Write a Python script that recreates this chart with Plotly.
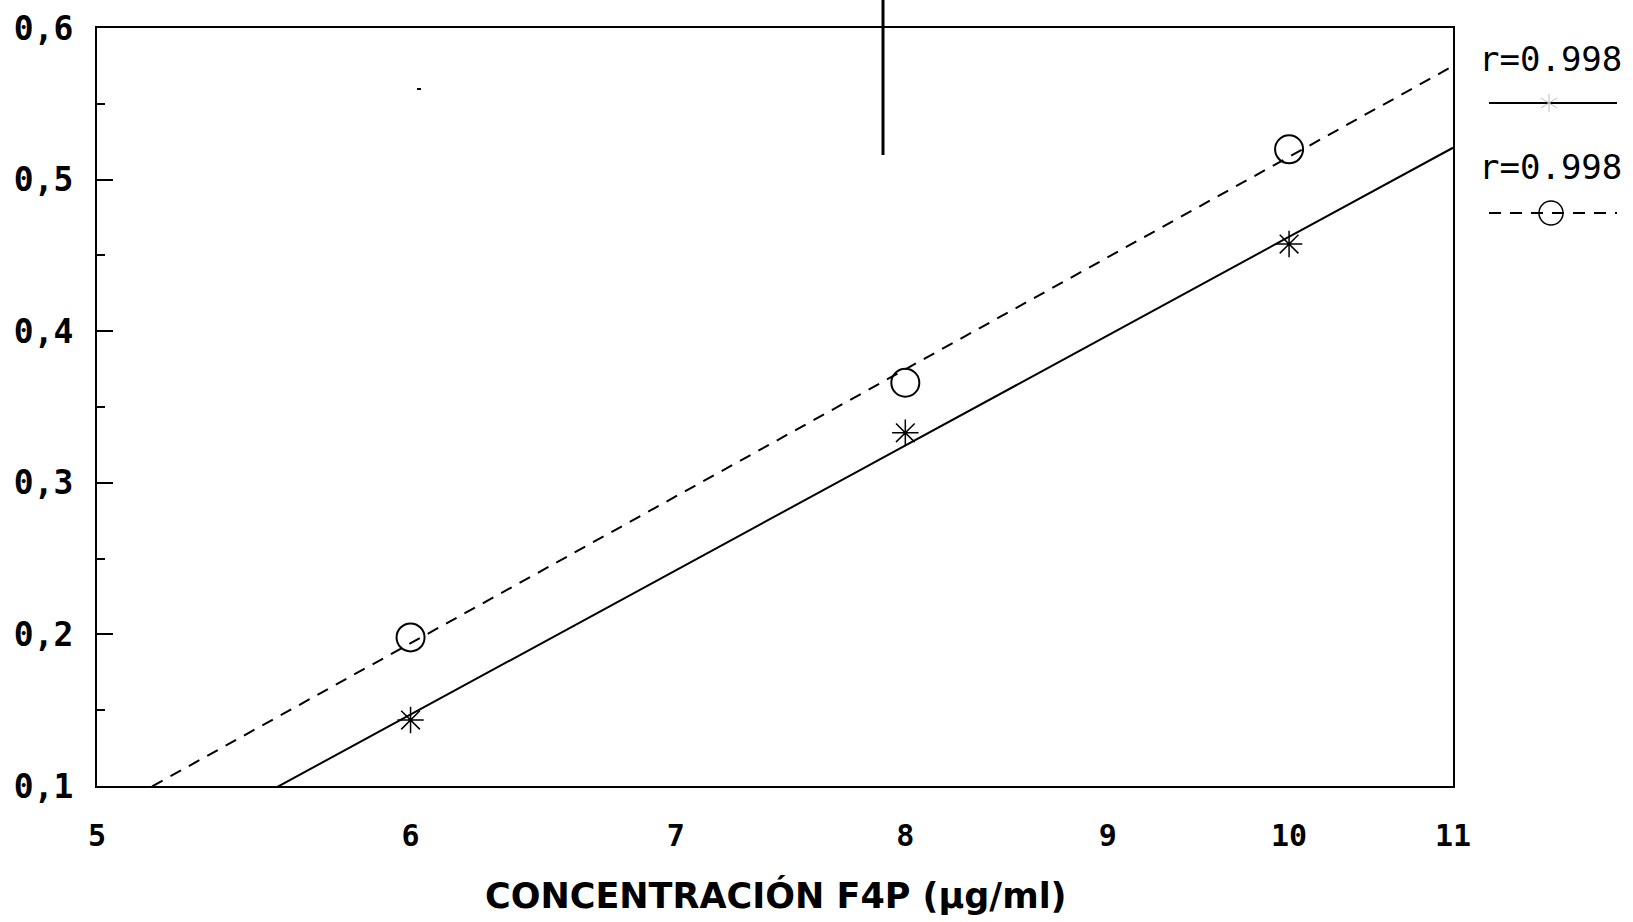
import numpy as np
import plotly.graph_objects as go

# ---- data ----
conc = [6, 8, 10]                      # µg/ml F4P
series_star = [0.1435, 0.333, 0.4575]  # solid regression, asterisk markers
series_circle = [0.198, 0.366, 0.520]  # dashed regression, circle markers
x_ticks = [5, 6, 7, 8, 9, 10, 11]
y_ticks = [0.1, 0.2, 0.3, 0.4, 0.5, 0.6]
y_ticktext = ["0,1", "0,2", "0,3", "0,4", "0,5", "0,6"]
legend_labels = ["r=0.998", "r=0.998"]
x_title = "CONCENTRACIÓN F4P (µg/ml)"

# ---- regression lines in log-x space ----
def fit_line(xs, ys):
    b, a = np.polyfit(np.log10(xs), ys, 1)
    xg = np.logspace(np.log10(x_ticks[0]), np.log10(x_ticks[-1]), 200)
    return xg, a + b * np.log10(xg)

xs_fit, ys_fit = fit_line(conc, series_star)
xc_fit, yc_fit = fit_line(conc, series_circle)

fig = go.Figure()
fig.add_trace(go.Scatter(x=xc_fit, y=yc_fit, mode="lines",
                         line=dict(color="black", width=2, dash="12px,9px"),
                         showlegend=False, hoverinfo="skip"))
fig.add_trace(go.Scatter(x=xs_fit, y=ys_fit, mode="lines",
                         line=dict(color="black", width=2),
                         showlegend=False, hoverinfo="skip"))
fig.add_trace(go.Scatter(x=conc, y=series_circle, mode="markers",
                         marker=dict(symbol="circle-open", size=28, color="black",
                                     line=dict(width=2, color="black")),
                         showlegend=False))
fig.add_trace(go.Scatter(x=conc, y=series_star, mode="markers",
                         marker=dict(symbol="asterisk-open", size=22, color="black",
                                     line=dict(width=1.5, color="black")),
                         showlegend=False))

W, H = 1633, 922
L, R, T, B = 97, 1453, 28, 786
pw, ph = R - L, B - T

def px(xp):
    return (xp - L) / pw

def py(yp):
    return (B - yp) / ph

fig.update_layout(
    width=W, height=H,
    margin=dict(l=L, r=W - R, t=T, b=H - B, pad=0, autoexpand=False),
    paper_bgcolor="white", plot_bgcolor="white",
    font=dict(family="DejaVu Sans Mono, Liberation Sans, sans-serif", color="black"),
)

fig.update_xaxes(
    type="log", automargin=False,
    range=[np.log10(x_ticks[0]), np.log10(x_ticks[-1])],
    tickvals=x_ticks, ticktext=[str(v) for v in x_ticks],
    ticks="", showgrid=False, zeroline=False,
    showline=True, linecolor="black", linewidth=2, mirror=True,
    tickfont=dict(size=30, family="DejaVu Sans Mono, sans-serif", weight="bold"),
    ticklabelstandoff=22,
)
fig.update_yaxes(
    automargin=False,
    range=[y_ticks[0], y_ticks[-1]],
    tickvals=y_ticks, ticktext=y_ticktext,
    ticks="inside", ticklen=16, tickwidth=2, tickcolor="black",
    minor=dict(dtick=0.05, ticks="inside", ticklen=8, tickwidth=2, tickcolor="black",
               showgrid=False),
    showgrid=False, zeroline=False,
    showline=True, linecolor="black", linewidth=2, mirror=True,
    tickfont=dict(size=33, family="DejaVu Sans Mono, sans-serif", weight="bold"),
    ticklabelstandoff=15,
)

# x-axis title
fig.add_annotation(text=x_title, xref="paper", yref="paper",
                   x=px(776), y=py(895), xanchor="center", yanchor="middle",
                   showarrow=False,
                   font=dict(size=35, family="DejaVu Sans, sans-serif", weight="bold"))

# legend texts
for lbl, ycen in zip(legend_labels, [59, 167]):
    fig.add_annotation(text=lbl, xref="paper", yref="paper",
                       x=px(1550), y=py(ycen), xanchor="center", yanchor="middle",
                       showarrow=False,
                       font=dict(size=34, family="DejaVu Sans Mono, monospace"))

shapes = []
# legend solid line
shapes.append(dict(type="line", xref="paper", yref="paper",
                   x0=px(1489), x1=px(1617), y0=py(103), y1=py(103),
                   line=dict(color="black", width=2)))
# faint asterisk on legend solid line
cx, cy = 1549, 103
for dx, dy in [(0, 9), (8, 5), (8, -5)]:
    shapes.append(dict(type="line", xref="paper", yref="paper",
                       x0=px(cx - dx), x1=px(cx + dx), y0=py(cy - dy), y1=py(cy + dy),
                       line=dict(color="#bbbbbb", width=1)))
# legend dashed line
shapes.append(dict(type="line", xref="paper", yref="paper",
                   x0=px(1489), x1=px(1617), y0=py(213), y1=py(213),
                   line=dict(color="black", width=2, dash="12px,9px")))
# legend circle
shapes.append(dict(type="circle", xref="paper", yref="paper",
                   x0=px(1551 - 12), x1=px(1551 + 12), y0=py(213 + 12), y1=py(213 - 12),
                   line=dict(color="black", width=1.5)))
# vertical scan artefact at top
shapes.append(dict(type="line", xref="paper", yref="paper",
                   x0=px(883), x1=px(883), y0=py(0), y1=py(155),
                   line=dict(color="black", width=3)))
# small dot artefact
shapes.append(dict(type="line", xref="paper", yref="paper",
                   x0=px(417), x1=px(421), y0=py(89), y1=py(89),
                   line=dict(color="black", width=2)))
fig.update_layout(shapes=shapes)

fig.write_html("out.html")
